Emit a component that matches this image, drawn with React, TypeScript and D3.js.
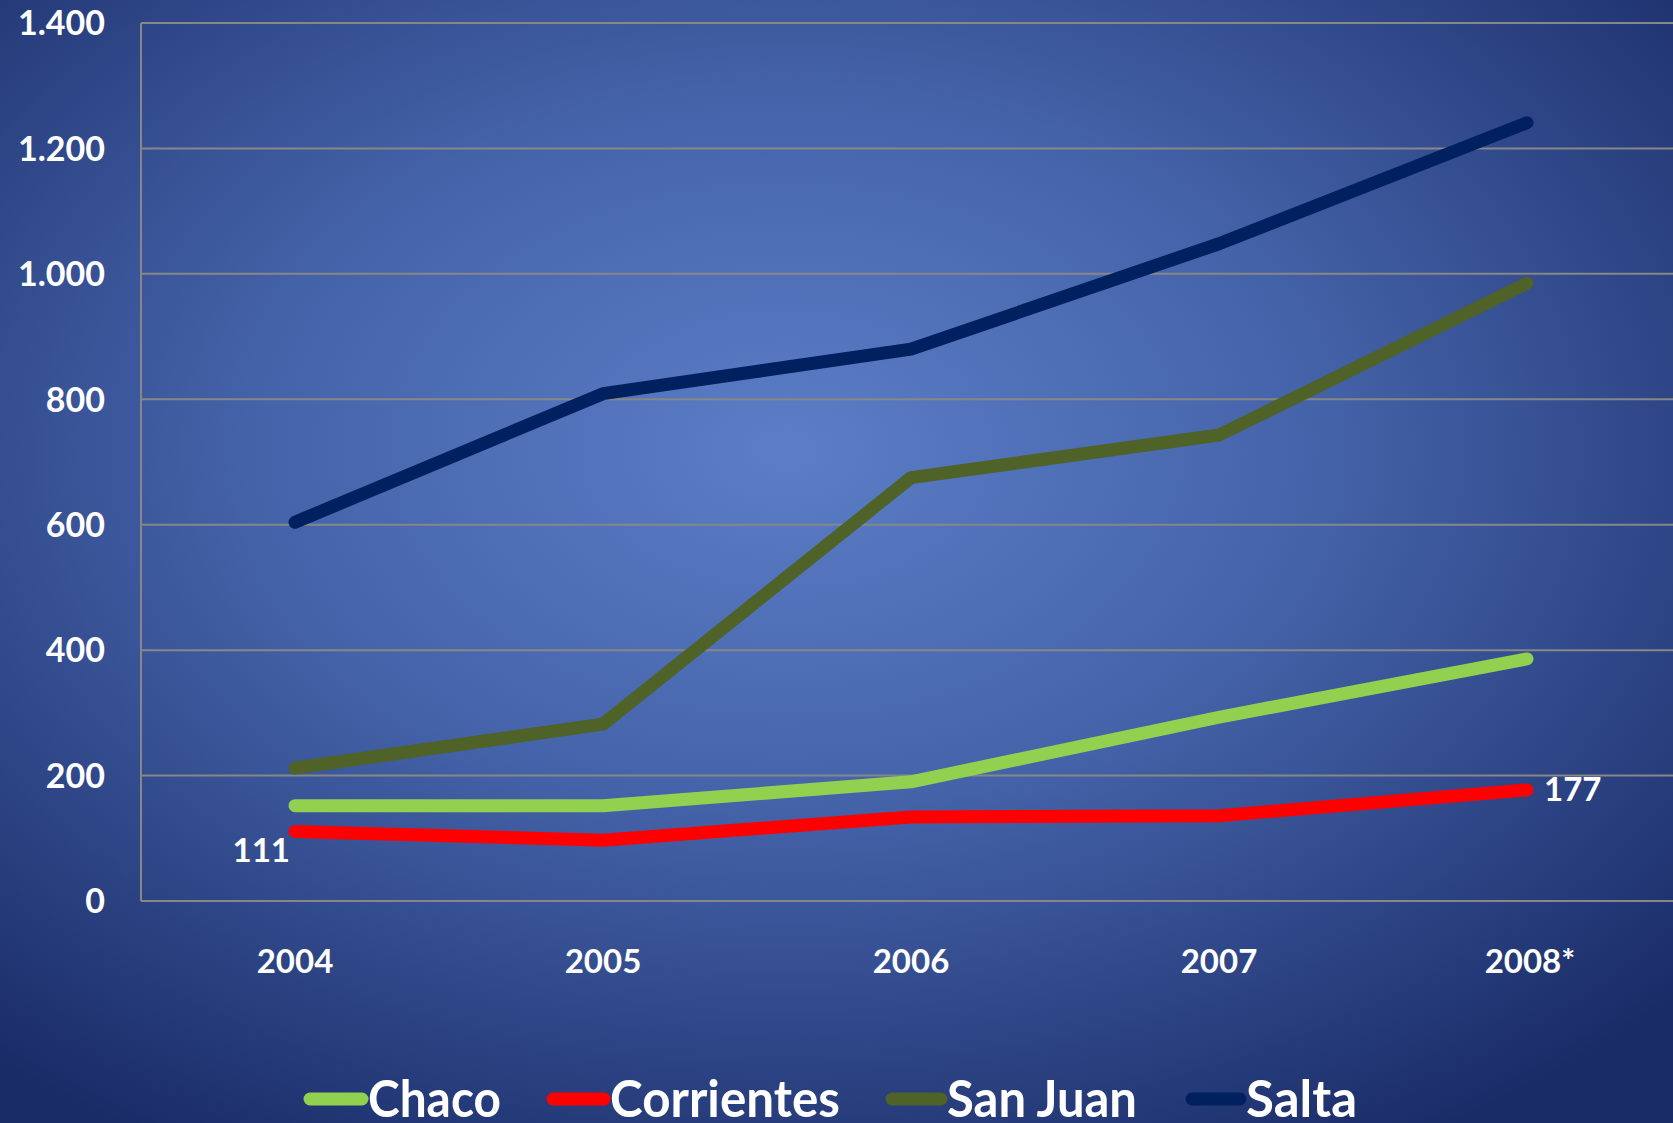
import React from "react";
import * as d3 from "d3";

const years = ["2004", "2005", "2006", "2007", "2008*"];
const chaco = [152, 152, 190, 293, 386];
const corrientes = [111, 97, 134, 136, 177];
const sanJuan = [212, 282, 675, 743, 985];
const salta = [604, 809, 880, 1048, 1241];
const yTicks = [0, 200, 400, 600, 800, 1000, 1200, 1400];

const seriesNames = ["Chaco", "Corrientes", "San Juan", "Salta"];
const seriesColors = ["#92d050", "#ff0000", "#4f6228", "#002060"];
const seriesValues = [chaco, corrientes, sanJuan, salta];

const W = 1673;
const H = 1123;
const plotLeft = 141;
const plotRight = 1681;
const plotTop = 23;
const plotBottom = 901;

const locale = d3.formatLocale({ decimal: ",", thousands: ".", grouping: [3], currency: ["$", ""] });
const fmt = locale.format(",");

const FONT = "Lato, 'Open Sans', sans-serif";

export default function App() {
  const x = d3.scaleBand<string>().domain(years).range([plotLeft, plotRight]);
  const xc = (d: string) => (x(d) as number) + x.bandwidth() / 2;
  const y = d3.scaleLinear().domain([0, 1400]).range([plotBottom, plotTop]);
  const line = d3
    .line<number>()
    .x((_, i) => xc(years[i]))
    .y((v) => y(v));

  const legendLayout = [
    { sx: 304, tx: 368, tw: 133 },
    { sx: 547, tx: 610, tw: 230 },
    { sx: 886, tx: 947, tw: 190 },
    { sx: 1186, tx: 1246, tw: 111 },
  ];

  return (
    <svg
      width={W}
      height={H}
      style={{ position: "absolute", left: 0, top: 0, display: "block" }}
      fontFamily={FONT}
    >
      <defs>
        <radialGradient id="bg" cx="47%" cy="40%" r="72%" fx="47%" fy="40%">
          <stop offset="0%" stopColor="#5b7ec7" />
          <stop offset="45%" stopColor="#4462a8" />
          <stop offset="100%" stopColor="#1a2c68" />
        </radialGradient>
      </defs>
      <rect x={0} y={0} width={W} height={H} fill="url(#bg)" />

      {yTicks.map((t) => (
        <g key={t}>
          <line x1={plotLeft} x2={W} y1={y(t)} y2={y(t)} stroke="#878787" strokeWidth={2} />
          <text
            x={105}
            y={y(t)}
            dy="0.36em"
            textAnchor="end"
            fill="#fff"
            fontWeight={700}
            fontSize={34}
          >
            {fmt(t)}
          </text>
        </g>
      ))}
      <line x1={plotLeft} x2={plotLeft} y1={plotTop} y2={plotBottom} stroke="#878787" strokeWidth={2} />

      {years.map((yr) => (
        <text
          key={yr}
          x={xc(yr) + (yr.endsWith("*") ? 3 : 0)}
          y={973}
          textAnchor="middle"
          fill="#fff"
          fontWeight={700}
          fontSize={33}
        >
          {yr}
        </text>
      ))}

      {seriesValues.map((vals, i) => (
        <path
          key={seriesNames[i]}
          d={line(vals) as string}
          fill="none"
          stroke={seriesColors[i]}
          strokeWidth={13}
          strokeLinecap="round"
          strokeLinejoin="round"
        />
      ))}

      <text x={xc(years[0]) - 5} y={862} textAnchor="end" fill="#fff" fontWeight={700} fontSize={33}>
        {corrientes[0]}
      </text>
      <text x={xc(years[4]) + 17} y={801} textAnchor="start" fill="#fff" fontWeight={700} fontSize={33}>
        {corrientes[4]}
      </text>

      {seriesNames.map((n, i) => (
        <g key={n}>
          <line
            x1={legendLayout[i].sx + 6}
            x2={legendLayout[i].tx - 6}
            y1={1099}
            y2={1099}
            stroke={seriesColors[i]}
            strokeWidth={13}
            strokeLinecap="round"
          />
          <text
            x={legendLayout[i].tx}
            y={1117}
            fill="#fff"
            fontWeight={700}
            fontSize={52}
            textLength={legendLayout[i].tw}
            lengthAdjust="spacingAndGlyphs"
          >
            {n}
          </text>
        </g>
      ))}
    </svg>
  );
}
